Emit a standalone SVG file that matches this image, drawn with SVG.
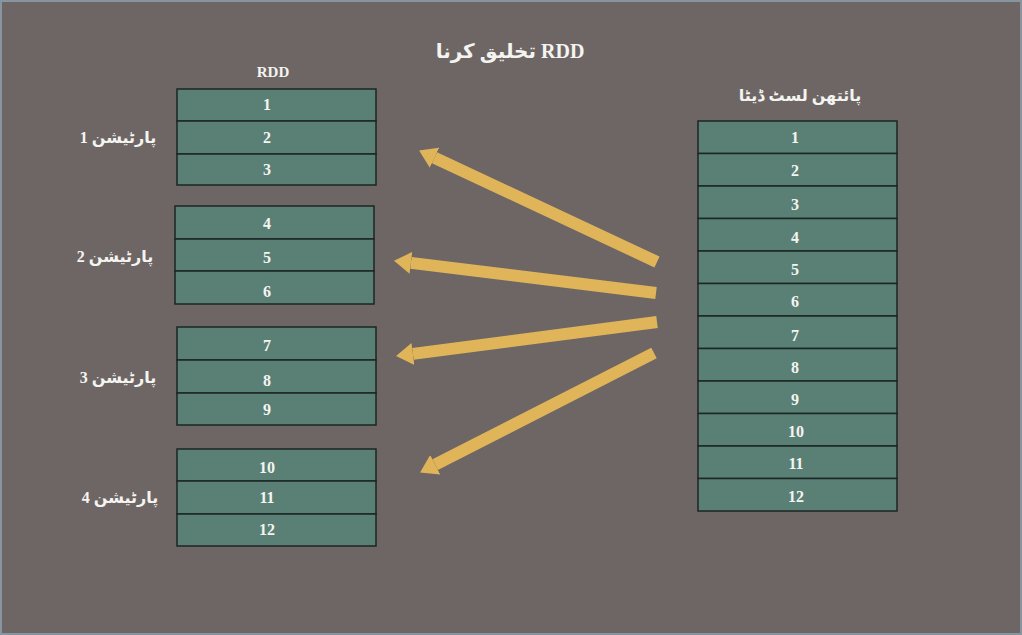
<svg xmlns="http://www.w3.org/2000/svg" width="1022" height="635" viewBox="0 0 1022 635">
<style>
.cell{fill:#5a8076;stroke:#1c2624;stroke-width:1.5}
.num{font-family:"Liberation Serif","Times New Roman",serif;font-weight:bold;font-size:16px;fill:#f4f4f0;text-anchor:middle}
.hd{font-family:"Liberation Serif","DejaVu Sans",serif;font-weight:bold;fill:#f4f4f0;text-anchor:middle}
.ur{font-family:"Liberation Serif","DejaVu Sans",sans-serif;font-weight:bold;font-size:16px;fill:#f4f4f0;text-anchor:middle;direction:rtl;unicode-bidi:embed}
.arr{stroke:#e0b55a;stroke-width:12;fill:none;marker-end:url(#ah)}
</style>
<defs>
<marker id="ah" markerUnits="userSpaceOnUse" markerWidth="18" markerHeight="24" refX="0" refY="12" orient="auto">
<path d="M0,1 L17,12 L0,23 z" fill="#e0b55a"/>
</marker>
</defs>
<rect x="0" y="0" width="1022" height="635" fill="#6e6665"/>
<rect x="1" y="1" width="1020" height="633" fill="none" stroke="#8795a0" stroke-width="2"/>

<g id="title">
<text class="ur" x="510" y="58" style="font-size:20px">RDD تخلیق کرنا</text>
</g>
<g id="rdd-heading"><text class="hd" x="273" y="77" font-size="15">RDD</text></g>
<g id="list-heading"><text class="ur" x="800" y="101">پائتھن لسٹ ڈیٹا</text></g>

<g id="partition1">
<text class="ur" x="118" y="143">پارٹیشن 1</text>
<rect class="cell" x="177" y="89" width="199" height="32"/>
<rect class="cell" x="177" y="121" width="199" height="33"/>
<rect class="cell" x="177" y="154" width="199" height="31"/>
<text class="num" x="267" y="110">1</text>
<text class="num" x="267" y="143">2</text>
<text class="num" x="267" y="175">3</text>
</g>
<g id="partition2">
<text class="ur" x="115" y="262">پارٹیشن 2</text>
<rect class="cell" x="175" y="206" width="199" height="33"/>
<rect class="cell" x="175" y="239" width="199" height="32"/>
<rect class="cell" x="175" y="271" width="199" height="33"/>
<text class="num" x="267" y="229">4</text>
<text class="num" x="267" y="263">5</text>
<text class="num" x="267" y="297">6</text>
</g>
<g id="partition3">
<text class="ur" x="118" y="383">پارٹیشن 3</text>
<rect class="cell" x="177" y="327" width="199" height="33"/>
<rect class="cell" x="177" y="360" width="199" height="33"/>
<rect class="cell" x="177" y="393" width="199" height="32"/>
<text class="num" x="267" y="351">7</text>
<text class="num" x="267" y="386">8</text>
<text class="num" x="267" y="415">9</text>
</g>
<g id="partition4">
<text class="ur" x="120" y="503">پارٹیشن 4</text>
<rect class="cell" x="177" y="449" width="199" height="32"/>
<rect class="cell" x="177" y="481" width="199" height="33"/>
<rect class="cell" x="177" y="514" width="199" height="32"/>
<text class="num" x="267" y="473">10</text>
<text class="num" x="267" y="503">11</text>
<text class="num" x="267" y="535">12</text>
</g>

<g id="python-list">
<rect class="cell" x="698" y="121" width="199" height="32.5"/>
<rect class="cell" x="698" y="153.5" width="199" height="32.5"/>
<rect class="cell" x="698" y="186" width="199" height="32.5"/>
<rect class="cell" x="698" y="218.5" width="199" height="32.5"/>
<rect class="cell" x="698" y="251" width="199" height="32.5"/>
<rect class="cell" x="698" y="283.5" width="199" height="32.5"/>
<rect class="cell" x="698" y="316" width="199" height="32.5"/>
<rect class="cell" x="698" y="348.5" width="199" height="32.5"/>
<rect class="cell" x="698" y="381" width="199" height="32.5"/>
<rect class="cell" x="698" y="413.5" width="199" height="32.5"/>
<rect class="cell" x="698" y="446" width="199" height="32.5"/>
<rect class="cell" x="698" y="478.5" width="199" height="32.5"/>
<text class="num" x="795" y="143">1</text>
<text class="num" x="795" y="176">2</text>
<text class="num" x="795" y="210">3</text>
<text class="num" x="795" y="243">4</text>
<text class="num" x="795" y="275">5</text>
<text class="num" x="795" y="307">6</text>
<text class="num" x="795" y="341">7</text>
<text class="num" x="795" y="373">8</text>
<text class="num" x="795" y="405">9</text>
<text class="num" x="796" y="437">10</text>
<text class="num" x="796" y="469">11</text>
<text class="num" x="796" y="502">12</text>
</g>

<g id="connectors">
<line class="arr" x1="657" y1="262" x2="434.5" y2="157.8"/>
<line class="arr" x1="656" y1="293" x2="410.9" y2="262.9"/>
<line class="arr" x1="657" y1="322" x2="412.9" y2="353.9"/>
<line class="arr" x1="654" y1="353" x2="435.2" y2="464.7"/>
</g>
</svg>
